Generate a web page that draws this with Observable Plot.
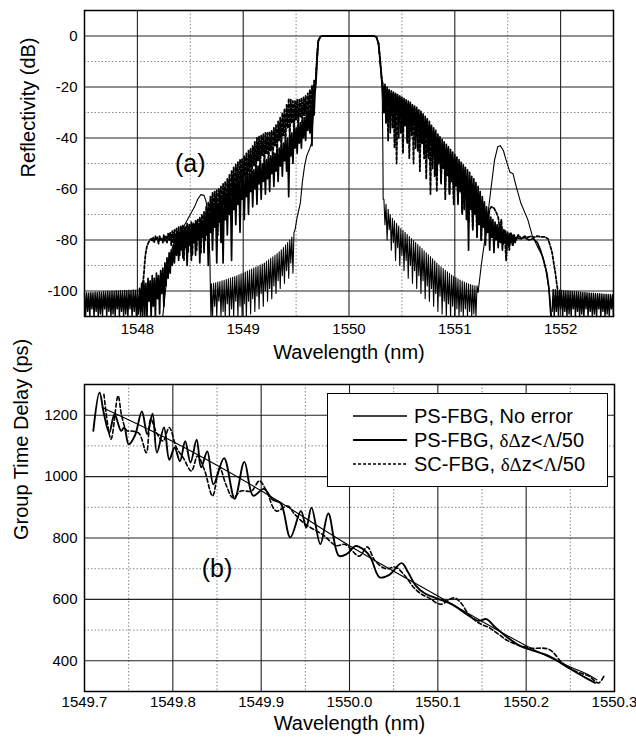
<!DOCTYPE html>
<html>
<head>
<meta charset="utf-8">
<script src="https://cdn.jsdelivr.net/npm/d3@7"></script>
<script src="https://cdn.jsdelivr.net/npm/@observablehq/plot@0.6"></script>
<style>
  html, body { margin: 0; padding: 0; background: #fff; }
  #wrap { position: relative; width: 636px; height: 743px; font-family: 'Liberation Sans', Arial, sans-serif; }
  #wrap svg { display: block; }
  #legend { position: absolute; left: 327px; top: 393px; width: 281px; height: 94px; box-sizing: border-box;
            border: 1.5px solid #000; background: #fff; }
  .row { position: absolute; left: 24px; height: 24px; display: flex; align-items: center; font-size: 20px; color: #000; white-space: nowrap; }
  .row svg { margin-right: 6px; }
  .sym { font-family: 'Liberation Serif', 'DejaVu Serif', serif; font-size: 19px; }
</style>
</head>
<body>
<div id="wrap">
  <div id="top"></div>
  <div id="bottom"></div>
</div>
<script>
// ---------------- Panel (a): reflectivity ----------------
const aXTicks = [1548, 1549, 1550, 1551, 1552];
const aXMinor = [1548.5, 1549.5, 1550.5, 1551.5];
const aYTicks = [0, -20, -40, -60, -80, -100];
const aYMinor = [-10, -30, -50, -70, -90];

// noise floor bands (start wavelength, step, dB values)
const aFloorLStart = 1547.50, aFloorLStep = 0.01;
const aFloorLDb = [-100.8,-110,-100.7,-108,-100.8,-110,-100.6,-107,-100.7,-110,
 -100.5,-108,-100.6,-110,-100.4,-109,-100.5,-110,-100.3,-107,
 -100.4,-110,-100.2,-108,-100.3,-110,-100.1,-109,-100.2,-110,
 -100.0,-107,-100.1,-110,-99.9,-108,-100.0,-110,-99.8,-109,
 -99.9,-110,-99.7,-107,-99.8,-110,-99.6,-108,-99.7,-110,
 -99.5,-109,-99.6,-110,-99.4,-106,-99.5,-110,-99.3,-108,-99.4];
const aFloorRStart = 1551.92, aFloorRStep = 0.01;
const aFloorRDb = [-108,-99.4,-110,-99.5,-108,-99.6,-110,-99.7,-107,-99.8,
 -110,-99.9,-108,-100.0,-110,-100.0,-109,-100.1,-110,-100.2,
 -107,-100.3,-110,-100.3,-108,-100.4,-110,-100.5,-109,-100.6,
 -110,-100.6,-107,-100.7,-110,-100.8,-108,-100.9,-110,-100.9,
 -109,-101.0,-110,-101.1,-107,-101.1,-110,-101.2,-108,-101.3,
 -110,-101.3,-109,-101.4,-110,-101.4,-107,-101.5,-110];

// PS-FBG, no error (thin solid)
const aNoErrBumpL = [[1548.24,-110],[1548.26,-102],[1548.28,-94],[1548.30,-88],[1548.33,-83],[1548.37,-79],
 [1548.41,-77],[1548.46,-73],[1548.50,-70],[1548.54,-67],[1548.57,-64],[1548.60,-62.2],[1548.63,-62.5],
 [1548.65,-65],[1548.665,-70],[1548.675,-77],[1548.685,-87],[1548.69,-100],[1548.695,-110]];
const aNoErrCombLStart = 1548.70, aNoErrCombLStep = 0.01;
const aNoErrCombLDb = [-97.2,-110,-97.0,-106,-96.8,-110,-96.5,-104,-96.3,-110,
 -96.0,-108,-95.8,-110,-95.5,-105,-95.2,-110,-94.9,-107,
 -94.6,-110,-94.3,-104,-94.0,-110,-93.6,-106,-93.3,-110,
 -93.0,-105,-92.6,-110,-92.2,-104,-91.8,-109,-91.4,-103,
 -91.0,-108,-90.6,-102,-90.2,-107,-89.8,-101,-89.4,-106,
 -89.0,-100,-88.4,-104,-87.8,-99,-87.2,-103,-86.6,-98,
 -86.0,-101,-85.3,-96,-84.6,-99,-83.8,-94,-83.0,-97,
 -82.0,-92,-81.0,-95,-80.0,-89,-78.8,-93,-77.0];
const aNoErrPass = [[1549.49,-76],[1549.51,-71],[1549.54,-65.5],[1549.56,-57],[1549.58,-51],[1549.60,-47],
 [1549.63,-44],[1549.645,-42],[1549.66,-32],[1549.673,-24],[1549.689,-13],[1549.698,-6],[1549.71,-1.5],
 [1549.73,-0.2],[1549.75,0],[1550.24,0],[1550.26,-0.5],[1550.275,-3],[1550.29,-8],[1550.305,-16],
 [1550.315,-25],[1550.32,-45],[1550.323,-64]];
const aNoErrCombRStart = 1550.33, aNoErrCombRStep = 0.01;
const aNoErrCombRDb = [-64,-74,-66,-80,-68,-76,-70,-84,-71.5,-81,
 -72.5,-88,-73.5,-83,-74.5,-90,-75.5,-86,-76.2,-92,
 -77,-88,-77.8,-95,-78.6,-90,-79.4,-97,-80.2,-92,
 -81,-99,-81.8,-94,-82.6,-101,-83.4,-96,-84.2,-103,
 -85,-98,-85.8,-104,-86.6,-99,-87.4,-106,-88.2,-101,
 -89,-108,-89.8,-102,-90.5,-109,-91.2,-104,-91.9,-110,
 -92.5,-105,-93.1,-110,-93.7,-106,-94.2,-110,-94.7,-107,
 -95.2,-110,-95.7,-108,-96.1,-110,-96.5,-107,-96.9,-110,
 -97.2,-108,-97.5,-110,-97.8,-109,-98,-110,-98];
const aNoErrBumpR = [[1551.22,-100.6],[1551.25,-90],[1551.28,-81],[1551.31,-71],[1551.34,-60.5],[1551.375,-48.8],
 [1551.406,-43.4],[1551.43,-43],[1551.46,-45],[1551.48,-48],[1551.52,-53.3],[1551.55,-54],[1551.58,-59],
 [1551.625,-65.6],[1551.69,-72],[1551.73,-78],[1551.78,-82.5],[1551.83,-86.4],[1551.86,-91.5],
 [1551.89,-99.3],[1551.91,-108.4],[1551.915,-110]];

// PS-FBG, with error (thick solid)
const aPsErrLStart = 1548.02, aPsErrLStep = 0.01;
const aPsErrLDb = [-99,-108,-97,-110,-96,-105,-97,-110,-95,-104,
 -96,-110,-94,-106,-95,-110,-93,-103,-94,-109,
 -92,-101,-91,-106,-89,-98,-87,-95,-85,-93,
 -84,-90,-82,-89,-80,-86,-79,-88,-78,-84,
 -77,-87,-76,-83,-77,-90,-75,-82,-76,-88,
 -74,-81,-75,-86,-73,-80,-74,-89,-72,-79,
 -73,-85,-71,-78,-72,-90,-70,-77,-69,-84,
 -68,-75,-67,-89,-66,-73,-65,-81,-64,-89,
 -63,-72,-62,-78,-61,-70,-60,-88,-59,-68,
 -58,-74,-57.5,-66,-57,-77,-56,-64,-55.5,-72,
 -55,-63,-54,-70,-53.5,-61,-53,-67,-52.5,-60,
 -52,-66,-51,-58,-50.5,-64,-50,-57,-49,-62,
 -48.5,-56,-48,-61,-47,-54,-46.5,-59,-46,-53,
 -45,-57,-44,-51,-43,-55,-42,-49,-41,-53,
 -40,-63,-39,-47,-38,-50,-37,-44,-36,-46,
 -35,-42,-34,-44,-33,-40,-32,-41,-31,-37,
 -29,-38,-27,-43,-25,-31,-21,-17];
const aErrPass = [[1549.70,-8],[1549.71,-2],[1549.73,-0.2],[1549.75,0],[1550.24,0],[1550.26,-0.5],
 [1550.28,-3],[1550.295,-10],[1550.31,-17]];
const aPsErrRStart = 1550.32, aPsErrRStep = 0.01;
const aPsErrRDb = [-20,-30,-19,-34,-20,-28,-21,-38,-21.5,-30,
 -22,-36,-22.5,-31,-23,-40,-23.5,-32,-24,-37,
 -24.5,-33,-25,-42,-25.5,-34,-26,-39,-27,-35,
 -27.5,-44,-28,-36,-29,-41,-29.5,-38,-30.5,-46,
 -31.5,-40,-32.5,-48,-33.5,-42,-35,-52,-36,-45,
 -37,-54,-38.5,-47,-39.5,-57,-40.5,-50,-41.5,-60,
 -42.5,-52,-43.5,-62,-44.5,-55,-45.5,-64,-46.5,-57,
 -47.5,-66,-48.5,-60,-49.5,-69,-50.5,-62,-51.5,-72,
 -52.5,-84,-53.5,-68,-55,-75,-56,-70,-57.5,-78,
 -59,-72,-61,-80,-63,-75,-65,-82,-67,-77,
 -69,-84,-71,-79,-72,-85,-73,-80,-74,-83,
 -74.5,-81,-75,-84,-76,-81,-76.5,-83,-77,-82,
 -77.5,-81,-78,-82,-78.5,-81,-79];
const aPsErrTail = [[1551.62,-79.5],[1551.66,-79],[1551.70,-80],[1551.74,-79.5],[1551.78,-81],[1551.81,-84],
 [1551.84,-88],[1551.87,-93],[1551.89,-99],[1551.905,-108],[1551.91,-110]];

// SC-FBG, with error (dashed)
const aScRise = [[1548.03,-101],[1548.045,-99],[1548.06,-94],[1548.075,-86],[1548.09,-82.5],[1548.105,-81],[1548.12,-80]];
const aScLStart = 1548.13, aScLStep = 0.01;
const aScLDb = [-79.5,-80.5,-79,-81,-78.5,-80,-79,-81.5,-78.5,-80,
 -79.5,-81,-78,-80.5,-78.5,-81,-77.5,-80,-77,-82,
 -76.5,-81,-76,-84,-75.5,-80,-75,-86,-74.5,-81,
 -74,-88,-74.5,-80,-73.5,-85,-74,-79,-73,-86,
 -73.5,-80,-72.5,-84,-72,-79,-71,-85,-70,-78,
 -69,-80,-67,-76,-65,-74,-63,-72,-61.5,-75,
 -61,-70,-60.5,-78,-60,-68,-59,-74,-58,-66,
 -57,-72,-56,-64,-54.5,-70,-53,-62,-51.5,-68,
 -50.5,-60,-49.5,-66,-48.5,-57,-48,-63,-47,-55,
 -46,-61,-45,-53,-44,-58,-43,-51,-41.5,-56,
 -40,-49,-39.5,-54,-39,-47,-38.5,-52,-38,-46,
 -38,-50,-37.5,-45,-37,-49,-36,-43,-35,-47,
 -33.5,-41,-32,-45,-30,-39,-28.5,-43,-27,-36,
 -24.5,-40,-25,-34,-25.5,-38,-25.5,-33,-25,-37,
 -25,-32,-24.5,-36,-24,-31,-23.5,-35,-22.5,-30,
 -21,-29,-19.5,-27,-17.5,-22,-14];
const aScRStart = 1550.32, aScRStep = 0.01;
const aScRDb = [-19,-30,-20,-34,-21,-41,-21.5,-31,-22,-36,
 -22.5,-44,-23,-50,-23.5,-33,-24,-38,-25,-46,
 -25.5,-35,-26,-41,-26.5,-48,-27,-37,-28,-50,
 -28.5,-39,-29.5,-45,-30.5,-53,-31.5,-42,-32.5,-48,
 -34,-56,-35,-45,-36,-62,-37,-47,-38.5,-55,
 -39.5,-61,-40.5,-50,-41.5,-58,-42.5,-52,-43.5,-64,
 -44.5,-55,-45.5,-62,-46.5,-57,-47.5,-66,-48.5,-59,
 -49.5,-65,-50.5,-61,-51.5,-70,-52.5,-68,-54,-64,
 -55,-73,-56.5,-67,-58,-76,-59.5,-70,-61,-79,
 -62.5,-74,-64,-80,-66,-75,-68,-78,-69,-74,-70];
const aScTail = [[1551.33,-68],[1551.345,-67],[1551.37,-67.5],[1551.39,-69],[1551.41,-71],[1551.425,-76],
 [1551.44,-72],[1551.455,-82],[1551.47,-76],[1551.485,-88],[1551.50,-78],[1551.515,-84],[1551.53,-77],
 [1551.545,-82],[1551.56,-78],[1551.58,-80],[1551.60,-78],[1551.63,-79.5],[1551.66,-78.5],[1551.69,-79],
 [1551.72,-78.5],[1551.75,-79],[1551.78,-78.5],[1551.81,-78.8],[1551.85,-78.8],[1551.88,-79.5],
 [1551.90,-82],[1551.92,-85],[1551.935,-89],[1551.947,-92],[1551.96,-96],[1551.97,-99],[1551.975,-103]];

const aPanelLabel = [{text: "(a)", wl: 1548.5, db: -50}];

// ---------------- Panel (b): group time delay ----------------
const bXTicks = [1549.7, 1549.8, 1549.9, 1550.0, 1550.1, 1550.2, 1550.3];
const bXMajor = [1549.8, 1549.9, 1550.0, 1550.1, 1550.2];
const bXMinor = [1549.75, 1549.85, 1549.95, 1550.05, 1550.15, 1550.25];
const bYTicks = [400, 600, 800, 1000, 1200];
const bYMinor = [500, 700, 900, 1100];

const bNoErr = [[1549.72,1225],[1549.80,1114],[1549.90,954],[1550.00,775],[1550.10,611],[1550.20,449],
 [1550.25,380],[1550.265,362],[1550.272,352],[1550.28,338]];
const bPsErr = [[1549.710,1149],[1549.717,1274],[1549.722,1205],[1549.728,1143],[1549.734,1203],[1549.7415,1149],
 [1549.745,1160],[1549.750,1105],[1549.757,1133],[1549.765,1212],[1549.771,1138],[1549.777,1205],[1549.782,1078],
 [1549.790,1160],[1549.796,1055],[1549.802,1095],[1549.808,1050],[1549.814,1115],[1549.820,1046],[1549.827,1120],
 [1549.832,1030],[1549.839,1082],[1549.846,975],[1549.858,1060],[1549.870,928],[1549.881,1048],[1549.891,938],
 [1549.903,960],[1549.913,925],[1549.922,914],[1549.933,802],[1549.945,888],[1549.951,834],[1549.957,899],
 [1549.967,780],[1549.976,880],[1549.988,742],[1549.997,748],[1550.007,774],[1550.017,760],[1550.024,736],
 [1550.034,672],[1550.045,680],[1550.059,718],[1550.066,690],[1550.075,645],[1550.085,620],[1550.100,602],
 [1550.116,584],[1550.133,551],[1550.146,530],[1550.155,536],[1550.164,512],[1550.175,485],[1550.192,450],
 [1550.209,432],[1550.226,415],[1550.248,377],[1550.267,345],[1550.278,328]];
const bScErr = [[1549.722,1268],[1549.730,1122],[1549.738,1263],[1549.742,1200],[1549.748,1150],[1549.755,1148],
 [1549.762,1140],[1549.770,1078],[1549.775,1187],[1549.782,1140],[1549.789,1116],[1549.796,1160],[1549.804,1095],
 [1549.812,1060],[1549.821,1018],[1549.828,1067],[1549.836,1020],[1549.845,937],[1549.853,1029],[1549.860,975],
 [1549.868,931],[1549.877,953],[1549.889,953],[1549.898,986],[1549.906,953],[1549.917,888],[1549.930,904],
 [1549.938,877],[1549.950,845],[1549.970,810],[1549.985,775],[1549.995,779],[1550.011,741],[1550.020,771],
 [1550.029,725],[1550.041,700],[1550.052,705],[1550.063,676],[1550.073,638],[1550.082,616],[1550.090,605],
 [1550.103,584],[1550.118,605],[1550.126,589],[1550.135,551],[1550.146,524],[1550.158,508],[1550.169,486],
 [1550.180,464],[1550.203,442],[1550.226,437],[1550.241,393],[1550.256,366],[1550.271,350],[1550.282,328],
 [1550.288,350]];

const bPanelLabel = [{text: "(b)", wl: 1549.85, ps: 700}];

// ---------------- build tables ----------------
const seq = (start, step, vals) => vals.map((v, i) => ({x: +(start + i * step).toFixed(4), y: v}));
const pts = arr => arr.map(([x, y]) => ({x, y}));

const floorL = seq(aFloorLStart, aFloorLStep, aFloorLDb);
const floorR = seq(aFloorRStart, aFloorRStep, aFloorRDb);
const noErrA = [...pts(aNoErrBumpL), ...seq(aNoErrCombLStart, aNoErrCombLStep, aNoErrCombLDb),
  ...pts(aNoErrPass), ...seq(aNoErrCombRStart, aNoErrCombRStep, aNoErrCombRDb), ...pts(aNoErrBumpR)];
const psErrA = [...seq(aPsErrLStart, aPsErrLStep, aPsErrLDb), ...pts(aErrPass),
  ...seq(aPsErrRStart, aPsErrRStep, aPsErrRDb), ...pts(aPsErrTail)];
const scErrA = [...pts(aScRise), ...seq(aScLStart, aScLStep, aScLDb), ...pts(aErrPass),
  ...seq(aScRStart, aScRStep, aScRDb), ...pts(aScTail)];

const FONT = "'Liberation Sans', Arial, Helvetica, sans-serif";
const fmtInt = d => String(d);

const plotA = Plot.plot({
  width: 636, height: 366,
  marginLeft: 84, marginRight: 23, marginTop: 10, marginBottom: 50,
  style: {fontFamily: FONT, fontSize: "15px", color: "#000", background: "#fff", overflow: "visible"},
  x: {domain: [1547.5, 1552.5], ticks: aXTicks, tickFormat: fmtInt, tickSize: 0, tickPadding: 7, label: null},
  y: {domain: [-110, 10], ticks: aYTicks, tickFormat: fmtInt, tickSize: 0, tickPadding: 7, label: null},
  marks: [
    Plot.ruleX(aXMinor, {stroke: "#888", strokeWidth: 1, strokeDasharray: "1.5,2"}),
    Plot.ruleY(aYMinor, {stroke: "#888", strokeWidth: 1, strokeDasharray: "1.5,2"}),
    Plot.ruleX(aXTicks, {stroke: "#222", strokeWidth: 1.1}),
    Plot.ruleY(aYTicks, {stroke: "#222", strokeWidth: 1.1}),
    Plot.line(floorL, {x: "x", y: "y", stroke: "#000", strokeWidth: 1.4}),
    Plot.line(floorR, {x: "x", y: "y", stroke: "#000", strokeWidth: 1.4}),
    Plot.line(noErrA, {x: "x", y: "y", stroke: "#000", strokeWidth: 1.1}),
    Plot.line(psErrA, {x: "x", y: "y", stroke: "#000", strokeWidth: 1.7}),
    Plot.line(scErrA, {x: "x", y: "y", stroke: "#000", strokeWidth: 1.8, strokeDasharray: "3,2"}),
    Plot.frame({stroke: "#000", strokeWidth: 1.5}),
    Plot.text(aPanelLabel, {x: "wl", y: "db", text: "text", fontSize: 25, fill: "#000"}),
    Plot.text(["Wavelength (nm)"], {frameAnchor: "bottom", dy: 42, fontSize: 20, fill: "#000"}),
    Plot.text(["Reflectivity (dB)"], {frameAnchor: "left", rotate: -90, dx: -56, dy: 14, fontSize: 20, fill: "#000"})
  ]
});

const plotB = Plot.plot({
  width: 636, height: 377,
  marginLeft: 84, marginRight: 22, marginTop: 18, marginBottom: 52,
  style: {fontFamily: FONT, fontSize: "15px", color: "#000", background: "#fff", overflow: "visible"},
  x: {domain: [1549.7, 1550.3], ticks: bXTicks, tickFormat: d => d.toFixed(1), tickSize: 0, tickPadding: 5, label: null},
  y: {domain: [300, 1300], ticks: bYTicks, tickFormat: fmtInt, tickSize: 0, tickPadding: 7, label: null},
  marks: [
    Plot.ruleX(bXMinor, {stroke: "#888", strokeWidth: 1, strokeDasharray: "1.5,2"}),
    Plot.ruleY(bYMinor, {stroke: "#888", strokeWidth: 1, strokeDasharray: "1.5,2"}),
    Plot.ruleX(bXMajor, {stroke: "#222", strokeWidth: 1.1}),
    Plot.ruleY(bYTicks, {stroke: "#222", strokeWidth: 1.1}),
    Plot.line(pts(bNoErr), {x: "x", y: "y", stroke: "#000", strokeWidth: 1.1, curve: "catmull-rom"}),
    Plot.line(pts(bPsErr), {x: "x", y: "y", stroke: "#000", strokeWidth: 1.9, curve: "catmull-rom"}),
    Plot.line(pts(bScErr), {x: "x", y: "y", stroke: "#000", strokeWidth: 1.6, strokeDasharray: "4,2.5", curve: "catmull-rom"}),
    Plot.frame({stroke: "#000", strokeWidth: 1.5}),
    Plot.text(bPanelLabel, {x: "wl", y: "ps", text: "text", fontSize: 25, fill: "#000"}),
    Plot.text(["Wavelength (nm)"], {frameAnchor: "bottom", dy: 38, fontSize: 20, fill: "#000"}),
    Plot.text(["Group Time Delay (ps)"], {frameAnchor: "left", rotate: -90, dx: -63, dy: 2, fontSize: 20, fill: "#000"})
  ]
});

document.getElementById("top").appendChild(plotA);
document.getElementById("bottom").appendChild(plotB);

// legend (inside panel b)
const legendItems = [
  {name: "PS-FBG, No error", width: 1.3, dash: null},
  {name: "PS-FBG, ", sym: true, width: 1.8, dash: null},
  {name: "SC-FBG, ", sym: true, width: 1.5, dash: "3,2"}
];
const legend = document.createElement("div");
legend.id = "legend";
legendItems.forEach((it, i) => {
  const row = document.createElement("div");
  row.className = "row";
  row.style.top = (10 + i * 24) + "px";
  const sw = `<svg width="56" height="10"><line x1="1" y1="5" x2="55" y2="5" stroke="#000" stroke-width="${it.width}"${it.dash ? ` stroke-dasharray="${it.dash}"` : ""}/></svg>`;
  const label = it.sym
    ? `${it.name}<span class="sym">δΔ</span>z&lt;<span class="sym">Λ</span>/50`
    : it.name;
  row.innerHTML = sw + `<span>${label}</span>`;
  legend.appendChild(row);
});
document.getElementById("wrap").appendChild(legend);
</script>
</body>
</html>
